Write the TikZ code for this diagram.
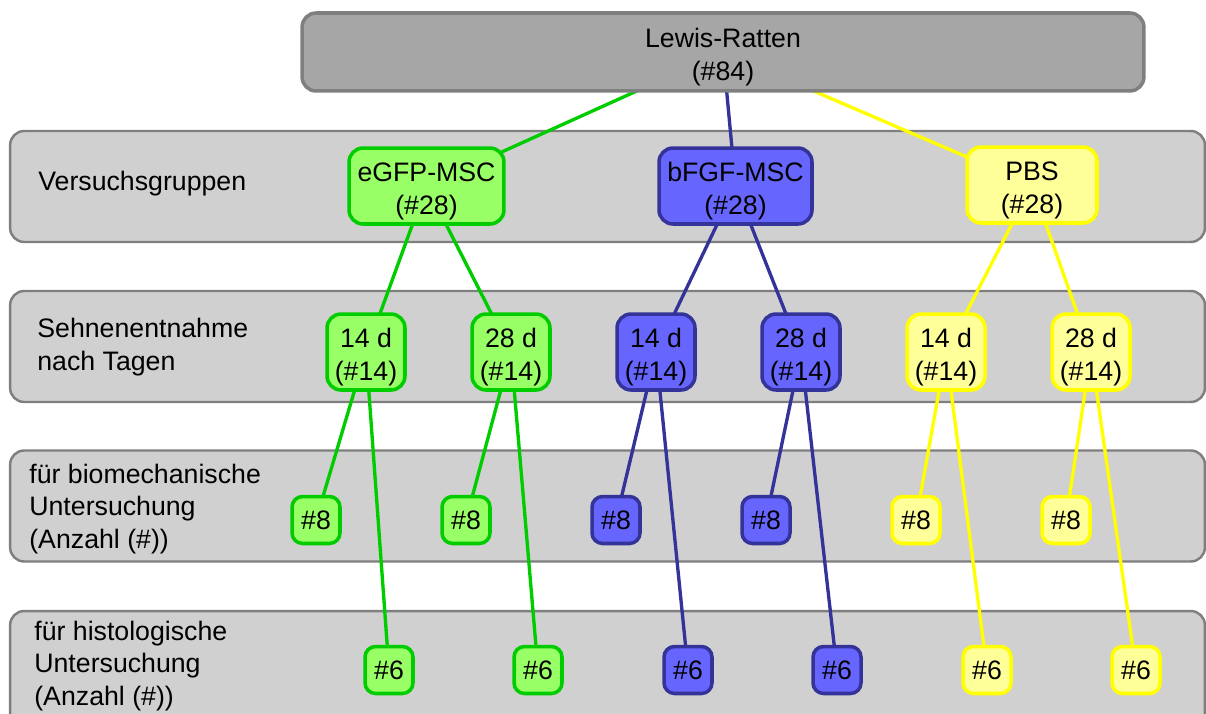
\documentclass[tikz,border=0pt]{standalone}
\usepackage{fontspec}
\setmainfont{Liberation Sans}

\definecolor{grnfill}{HTML}{99FF66}
\definecolor{grnline}{HTML}{00CC00}
\definecolor{blufill}{HTML}{6666FF}
\definecolor{bluline}{HTML}{333399}
\definecolor{yelfill}{HTML}{FFFF99}
\definecolor{yelline}{HTML}{FFFF00}
\definecolor{bandfill}{HTML}{D0D0D0}
\definecolor{bandline}{HTML}{7F7F7F}
\definecolor{topfill}{HTML}{A6A6A6}

\newcommand{\topstrut}{\rule{0pt}{16.5pt}}

\pgfdeclarelayer{bands}
\pgfdeclarelayer{edges}
\pgfsetlayers{bands,edges,main}

\begin{document}
\begin{tikzpicture}[x=0.02cm, y=-0.02cm,
  every node/.style={font=\fontsize{15.2}{18.7}\selectfont, align=center, inner sep=0pt},
  band/.style={draw=bandline, fill=bandfill, line width=1.4pt, rounded corners=8pt,
    minimum width=23.9cm, minimum height=2.22cm},
  rbox/.style={line width=2pt, rounded corners=8pt},
  greenbox/.style={rbox, draw=grnline, fill=grnfill},
  bluebox/.style={rbox, draw=bluline, fill=blufill},
  yellowbox/.style={rbox, draw=yelline, fill=yelfill},
  grp/.style={minimum height=1.52cm},
  day/.style={minimum width=1.56cm, minimum height=1.52cm},
  tag/.style={minimum width=0.96cm, minimum height=0.94cm, rounded corners=6pt},
  gline/.style={grnline, line width=1.9pt},
  bline/.style={bluline, line width=1.9pt},
  yline/.style={yelline, line width=1.9pt}]

\useasboundingbox (0,0) rectangle (1206,713);

% grid
%\draw[help lines, step=50] (0,0) grid (1206,713);

% bands
\begin{pgfonlayer}{bands}
\clip (0,0) rectangle (1206,713);
\node[band] (b1) at (607.5,186.5) {};
\node[band] (b2) at (607.5,346.5) {};
\node[band] (b3) at (607.5,506) {};
\node[band, minimum height=3cm] (b4) at (607.5,686) {};
\end{pgfonlayer}

% row labels
\node[anchor=west, align=left] (lab1) at (38,184) {Versuchsgruppen};
\node[anchor=west, align=left] (lab2) at (37,347) {Sehnenentnahme\\nach Tagen};
\node[anchor=west, align=left] (lab3) at (29,509) {für biomechanische\\Untersuchung\\(Anzahl (\#))};
\node[anchor=west, align=left] (lab4) at (34,666) {für histologische\\Untersuchung\\(Anzahl (\#))};

% top
\node[draw=bandline, fill=topfill, line width=2pt, rounded corners=8pt,
  minimum width=16.84cm, minimum height=1.56cm] (rats) at (723,52) {\topstrut Lewis-Ratten\\(\#84)};

% groups
\node[greenbox, grp, minimum width=3.1cm] (egfp) at (426.5,186) {\topstrut eGFP-MSC\\(\#28)};
\node[bluebox, grp, minimum width=3.06cm] (bfgf) at (735.5,186) {\topstrut bFGF-MSC\\(\#28)};
\node[yellowbox, grp, minimum width=2.6cm] (pbs) at (1032,185) {\topstrut PBS\\(\#28)};

% days
\node[greenbox, day] (egfp14) at (366,352) {\topstrut 14 d\\(\#14)};
\node[greenbox, day] (egfp28) at (511,352) {\topstrut 28 d\\(\#14)};
\node[bluebox, day] (bfgf14) at (656,352) {\topstrut 14 d\\(\#14)};
\node[bluebox, day] (bfgf28) at (801,352) {\topstrut 28 d\\(\#14)};
\node[yellowbox, day] (pbs14) at (946,352) {\topstrut 14 d\\(\#14)};
\node[yellowbox, day] (pbs28) at (1091,352) {\topstrut 28 d\\(\#14)};

% biomechanics
\node[greenbox, tag] (egfp14bio) at (316,520) {\#8};
\node[greenbox, tag] (egfp28bio) at (466,520) {\#8};
\node[bluebox, tag] (bfgf14bio) at (616,520) {\#8};
\node[bluebox, tag] (bfgf28bio) at (766,520) {\#8};
\node[yellowbox, tag] (pbs14bio) at (916,520) {\#8};
\node[yellowbox, tag] (pbs28bio) at (1066,520) {\#8};

% histology
\node[greenbox, tag] (egfp14his) at (389,670) {\#6};
\node[greenbox, tag] (egfp28his) at (538,670) {\#6};
\node[bluebox, tag] (bfgf14his) at (688,670) {\#6};
\node[bluebox, tag] (bfgf28his) at (837,670) {\#6};
\node[yellowbox, tag] (pbs14his) at (987,670) {\#6};
\node[yellowbox, tag] (pbs28his) at (1136,670) {\#6};

% lines
\begin{pgfonlayer}{edges}
\draw[gline] (rats.center) -- (egfp.center);
\draw[gline] (egfp.center) -- (egfp14.center);
\draw[gline] (egfp.center) -- (egfp28.center);
\draw[gline] (egfp14.center) -- (egfp14bio.center);
\draw[gline] (egfp14.center) -- (egfp14his.center);
\draw[gline] (egfp28.center) -- (egfp28bio.center);
\draw[gline] (egfp28.center) -- (egfp28his.center);

\draw[bline] (rats.center) -- (bfgf.center);
\draw[bline] (bfgf.center) -- (bfgf14.center);
\draw[bline] (bfgf.center) -- (bfgf28.center);
\draw[bline] (bfgf14.center) -- (bfgf14bio.center);
\draw[bline] (bfgf14.center) -- (bfgf14his.center);
\draw[bline] (bfgf28.center) -- (bfgf28bio.center);
\draw[bline] (bfgf28.center) -- (bfgf28his.center);

\draw[yline] (rats.center) -- (pbs.center);
\draw[yline] (pbs.center) -- (pbs14.center);
\draw[yline] (pbs.center) -- (pbs28.center);
\draw[yline] (pbs14.center) -- (pbs14bio.center);
\draw[yline] (pbs14.center) -- (pbs14his.center);
\draw[yline] (pbs28.center) -- (pbs28bio.center);
\draw[yline] (pbs28.center) -- (pbs28his.center);
\end{pgfonlayer}

\end{tikzpicture}
\end{document}
